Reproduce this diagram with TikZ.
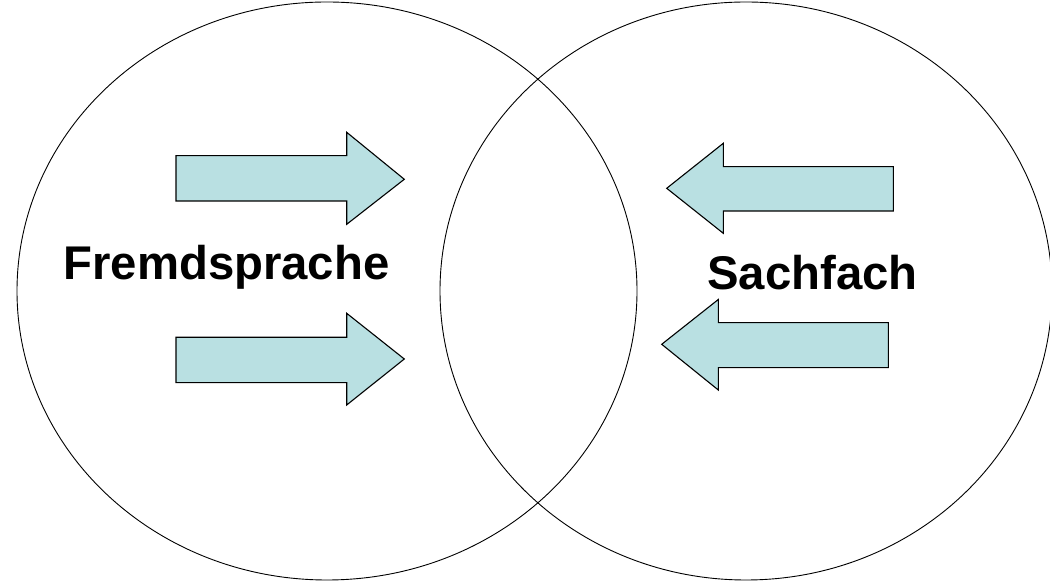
\documentclass[tikz,border=0pt]{standalone}
\usepackage{fontspec}
\setmainfont{Liberation Sans}
\definecolor{arrowfill}{RGB}{185,224,226}
\begin{document}
\begin{tikzpicture}[x=1pt,y=1pt,
  venn/.style={draw=black,line width=0.9pt},
  fatarrow/.style={draw=black,line width=1.1pt,fill=arrowfill,line join=miter},
  lbl/.style={font=\fontsize{47.3}{56}\selectfont\bfseries,anchor=base,inner sep=0pt}]
\useasboundingbox (0,0) rectangle (1050,583);
\clip (0,0) rectangle (1050,583);
% circles
\draw[venn] (327,292) ellipse [x radius=310, y radius=289];
\draw[venn] (746,292) ellipse [x radius=306, y radius=289];
% right-pointing arrows (left side)
\draw[fatarrow] (176,427.3) -- (346.7,427.3) -- (346.7,450.7) -- (404.3,403.7)
  -- (346.7,358.7) -- (346.7,382) -- (176,382) -- cycle;
\draw[fatarrow] (176,245.7) -- (346.7,245.7) -- (346.7,269.7) -- (404.3,224)
  -- (346.7,178) -- (346.7,200.3) -- (176,200.3) -- cycle;
% left-pointing arrows (right side)
\draw[fatarrow] (893.3,416.3) -- (723.3,416.3) -- (723.3,439.7) -- (666.7,394.7)
  -- (723.3,349.7) -- (723.3,372) -- (893.3,372) -- cycle;
\draw[fatarrow] (888.3,260.3) -- (718.3,260.3) -- (718.3,283.5) -- (661.7,238.7)
  -- (718.3,193) -- (718.3,215.3) -- (888.3,215.3) -- cycle;
% labels
\node[lbl] (fs) at (226.5,303) {Fremdsprache};
\node[lbl] (sf) at (812.5,293.7) {Sachfach};
\end{tikzpicture}
\end{document}
